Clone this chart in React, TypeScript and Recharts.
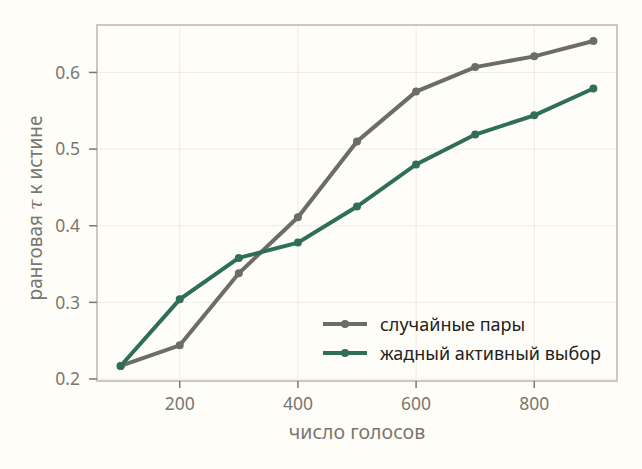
import { LineChart, Line, XAxis, YAxis, CartesianGrid, ReferenceArea, Label } from "recharts"

const votes = [100, 200, 300, 400, 500, 600, 700, 800, 900]
const randomPairs = [0.217, 0.244, 0.338, 0.411, 0.51, 0.575, 0.607, 0.621, 0.641]
const greedyActive = [0.217, 0.304, 0.358, 0.378, 0.425, 0.48, 0.519, 0.544, 0.579]
const xTicks = [200, 400, 600, 800]
const yTicks = [0.2, 0.3, 0.4, 0.5, 0.6]

const seriesNames = ["случайные пары", "жадный активный выбор"]
const seriesColors = ["#6d6d67", "#2f6e57"]

const X_DOMAIN: [number, number] = [60, 940]
const Y_DOMAIN: [number, number] = [0.1974, 0.6619]

const FONT = "'Noto Sans', 'Open Sans', sans-serif"
const BG = "#fffdf8"
const MUTED = "#777770"

const data = votes.map((v, i) => ({ votes: v, random: randomPairs[i], greedy: greedyActive[i] }))

// legend drawn as an overlay so it doesn't eat plot space
function LegendBox() {
  return (
    <div style={{ position: "absolute", left: 322, top: 309, fontFamily: FONT, fontSize: 18, color: "#222" }}>
      {seriesNames.map((name, i) => (
        <div key={name} style={{ display: "flex", alignItems: "center", height: 29, whiteSpace: "nowrap" }}>
          <svg width={46} height={10} style={{ marginRight: 12 }}>
            <line x1={1} y1={5} x2={45} y2={5} stroke={seriesColors[i]} strokeWidth={4} />
            <circle cx={23} cy={5} r={4} fill={seriesColors[i]} />
          </svg>
          <span>{name}</span>
        </div>
      ))}
    </div>
  )
}

function YLabel(props: any) {
  const vb = props.viewBox
  const cx = 35
  const cy = vb.y + vb.height / 2 + 5
  return (
    <text
      x={cx}
      y={cy}
      transform={`rotate(-90, ${cx}, ${cy})`}
      textAnchor="middle"
      dominantBaseline="central"
      fill={MUTED}
      fontSize={19}
      fontFamily={FONT}
    >
      ранговая <tspan fontStyle="italic" fontFamily="'DejaVu Serif', serif">τ</tspan> к истине
    </text>
  )
}

export default function App() {
  return (
    <div style={{ position: "absolute", left: 0, top: 0, width: 642, height: 469, background: BG }}>
      <LineChart width={642} height={469} data={data} margin={{ top: 25, right: 25, left: 0, bottom: 0 }}>
        <CartesianGrid stroke="#ecebe4" strokeWidth={1} horizontalValues={yTicks} verticalValues={xTicks} />
        <XAxis
          dataKey="votes"
          type="number"
          domain={X_DOMAIN}
          ticks={xTicks}
          allowDataOverflow
          height={88}
          axisLine={false}
          tickLine={{ stroke: MUTED, strokeWidth: 1.5 }}
          tickSize={7}
          tickMargin={10}
          tick={{ fill: MUTED, fontSize: 17.5, fontFamily: FONT }}
        >
          <Label value="число голосов" position="insideTop" offset={44} fill={MUTED} fontSize={19.5} fontFamily={FONT} />
        </XAxis>
        <YAxis
          type="number"
          domain={Y_DOMAIN}
          ticks={yTicks}
          allowDataOverflow
          width={97}
          axisLine={false}
          tickLine={{ stroke: MUTED, strokeWidth: 1.5 }}
          tickSize={8}
          tickMargin={9}
          tickFormatter={(v: number) => v.toFixed(1)}
          tick={{ fill: MUTED, fontSize: 17.5, fontFamily: FONT }}
        >
          <Label content={<YLabel />} />
        </YAxis>
        <Line
          dataKey="random"
          name={seriesNames[0]}
          stroke={seriesColors[0]}
          strokeWidth={4}
          dot={{ r: 4, fill: seriesColors[0], stroke: seriesColors[0], strokeWidth: 0 }}
          isAnimationActive={false}
        />
        <Line
          dataKey="greedy"
          name={seriesNames[1]}
          stroke={seriesColors[1]}
          strokeWidth={4}
          dot={{ r: 4, fill: seriesColors[1], stroke: seriesColors[1], strokeWidth: 0 }}
          isAnimationActive={false}
        />
        <ReferenceArea
          x1={X_DOMAIN[0]}
          x2={X_DOMAIN[1]}
          y1={Y_DOMAIN[0]}
          y2={Y_DOMAIN[1]}
          fill="none"
          stroke="#c9c9c0"
          strokeWidth={2}
          ifOverflow="visible"
        />
      </LineChart>
      <LegendBox />
    </div>
  )
}
